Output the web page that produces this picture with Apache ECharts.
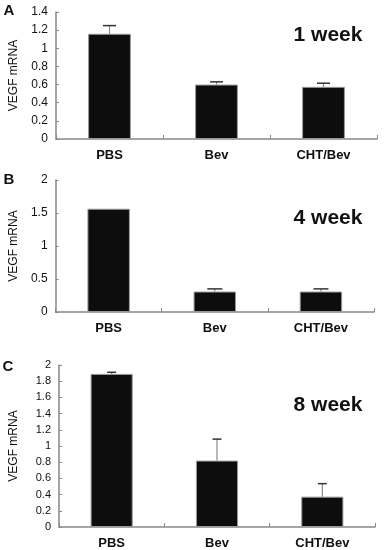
<!DOCTYPE html>
<html>
<head>
<meta charset="utf-8">
<script src="https://cdn.jsdelivr.net/npm/echarts@6/dist/echarts.min.js"></script>
<style>
html,body{margin:0;padding:0;background:#fff;}
#c{width:384px;height:550px;}
</style>
</head>
<body>
<div id="c"></div>
<script>
var categories = ['PBS', 'Bev', 'CHT/Bev'];
var panelLetters = ['A', 'B', 'C'];
var panelTitles = ['1 week', '4 week', '8 week'];
var week1 = [1.16, 0.60, 0.575];
var week1Err = [0.09, 0.03, 0.04];
var week4 = [1.565, 0.31, 0.31];
var week4Err = [0, 0.04, 0.04];
var week8 = [1.89, 0.82, 0.375];
var week8Err = [0.02, 0.265, 0.16];
var yMax = [1.4, 2, 2];
var yInterval = [0.2, 0.5, 0.2];

var FONT = 'Liberation Sans, Arial, sans-serif';
var values = [week1, week4, week8];
var errs = [week1Err, week4Err, week8Err];

var grids = [
  {left: 44, top: 12, width: 333, height: 127},
  {left: 44, top: 180, width: 330, height: 132},
  {left: 49, top: 365, width: 326, height: 164}
];
var nameGaps = [36, 33, 39];
var tickFont = [12, 12, 11];
var capW = [13, 15, 9];

var xAxes = [], yAxes = [], series = [];
for (var i = 0; i < 3; i++) {
  xAxes.push({
    type: 'category', gridIndex: i, data: categories,
    axisLine: {lineStyle: {color: '#888', width: 1.5}},
    axisTick: {show: true, inside: true, length: 4, alignWithLabel: false, lineStyle: {color: '#888'}},
    axisLabel: {fontFamily: FONT, fontWeight: 'bold', fontSize: 13, color: '#111', margin: 10}
  });
  yAxes.push({
    type: 'value', gridIndex: i, min: 0, max: yMax[i], interval: yInterval[i],
    name: 'VEGF mRNA', nameLocation: 'middle', nameGap: nameGaps[i], nameRotate: 90,
    nameTextStyle: {fontFamily: FONT, fontSize: 12, color: '#111'},
    splitLine: {show: false},
    axisLine: {show: true, lineStyle: {color: '#888', width: 1.5}},
    axisTick: {show: true, inside: true, length: 3, lineStyle: {color: '#888'}},
    axisLabel: {fontFamily: FONT, fontSize: tickFont[i], color: '#111', margin: 8}
  });
  series.push({
    type: 'bar', xAxisIndex: i, yAxisIndex: i, data: values[i],
    barWidth: '40%',
    itemStyle: {color: '#0d0d0d', borderColor: '#999', borderWidth: 1}
  });
  (function (idx) {
    var d = values[idx].map(function (v, k) { return [k, v, v + errs[idx][k]]; });
    series.push({
      type: 'custom', xAxisIndex: idx, yAxisIndex: idx, data: d, z: 5,
      encode: {x: 0, y: [1, 2]},
      renderItem: function (params, api) {
        var lo = api.coord([api.value(0), api.value(1)]);
        var hi = api.coord([api.value(0), api.value(2)]);
        if (Math.abs(lo[1] - hi[1]) < 0.5) return;
        var w = capW[idx] / 2;
        return {
          type: 'group',
          children: [
            {type: 'line', shape: {x1: lo[0], y1: lo[1], x2: hi[0], y2: hi[1]}, style: {stroke: '#888', lineWidth: 1.2}},
            {type: 'line', shape: {x1: hi[0] - w, y1: hi[1], x2: hi[0] + w, y2: hi[1]}, style: {stroke: '#333', lineWidth: 1.5}}
          ]
        };
      }
    });
  })(i);
}

var letterPos = [[9, 11], [9, 180], [8, 367]];
var titlePos = [[328, 35], [328, 218], [328, 405]];
var graphics = [];
for (var j = 0; j < 3; j++) {
  graphics.push({type: 'text', x: letterPos[j][0], y: letterPos[j][1],
    style: {text: panelLetters[j], font: 'bold 15px ' + FONT, fill: '#111', textAlign: 'center', textVerticalAlign: 'middle'}});
  graphics.push({type: 'text', x: titlePos[j][0], y: titlePos[j][1],
    style: {text: panelTitles[j], font: 'bold 21px ' + FONT, fill: '#111', textAlign: 'center', textVerticalAlign: 'middle'}});
}

var chart = echarts.init(document.getElementById('c'));
chart.setOption({
  animation: false,
  backgroundColor: '#fff',
  grid: grids,
  xAxis: xAxes,
  yAxis: yAxes,
  series: series,
  graphic: graphics
});
</script>
</body>
</html>
